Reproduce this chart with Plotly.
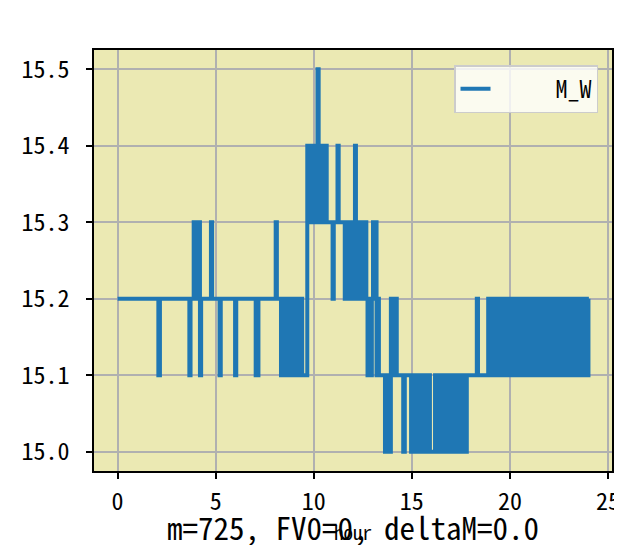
import plotly.graph_objects as go

# step data: time (hour) where the value changes, and the new M_W value
hours = [
    0.00, 2.08, 2.16, 3.66, 3.72, 3.88, 3.94, 4.14, 4.20, 4.26, 4.76, 4.82,
    5.20, 5.26, 5.99, 6.05, 7.04, 7.10, 7.14, 7.18, 8.06, 8.12,
    8.33, 8.39, 8.45, 8.51, 8.57, 8.63, 8.69, 8.75, 8.81, 8.87, 8.93, 8.99,
    9.05, 9.11, 9.17, 9.23, 9.29, 9.35, 9.41,
    9.67, 9.72, 9.78, 9.84, 9.90, 9.96, 10.02, 10.08, 10.14, 10.19, 10.25,
    10.30, 10.36, 10.42, 10.48, 10.54, 10.60, 10.66,
    10.96, 11.02, 11.21, 11.27, 11.58, 11.64, 11.70, 11.76, 11.82, 11.88,
    11.94, 12.00, 12.06, 12.10, 12.15, 12.20, 12.26, 12.32, 12.38, 12.44,
    12.50, 12.56, 12.62, 12.68,
    12.74, 12.80, 12.88, 12.96, 13.02, 13.08, 13.14, 13.20, 13.26, 13.32,
    13.63, 13.69, 13.75, 13.81, 13.87, 13.93, 13.99, 14.05, 14.11, 14.17, 14.23,
    14.56, 14.64, 14.96, 15.02, 15.08, 15.14, 15.20, 15.26, 15.32, 15.38,
    15.44, 15.50, 15.56, 15.62, 15.68, 15.74, 15.80, 15.86, 15.92,
    16.18, 16.24, 16.30, 16.41, 16.47, 16.53, 16.59, 16.65, 16.71, 16.77,
    16.83, 16.89, 16.95, 17.01, 17.07, 17.13, 17.19, 17.25, 17.31, 17.37,
    17.43, 17.49, 17.55, 17.74, 17.80,
    18.31, 18.37, 18.89, 18.95, 19.01, 19.07, 19.13, 19.19, 19.25, 19.31,
    19.37, 19.43, 19.49, 19.55, 19.61, 19.67,
    19.86, 19.92, 19.98, 20.04, 20.10, 20.16, 20.22, 20.28, 20.34, 20.40,
    20.46, 20.52, 20.58, 20.64, 20.70, 20.76, 20.82, 20.88, 20.94, 21.00,
    21.06, 21.12, 21.18, 21.22,
    21.28, 21.36, 21.44, 21.52, 21.60, 21.68, 21.76, 21.84, 21.92, 22.00,
    22.08, 22.16, 22.24, 22.32, 22.40, 22.48, 22.56, 22.64, 22.72, 22.80,
    22.88, 22.96, 23.04, 23.12, 23.20, 23.28, 23.36, 23.44, 23.52, 23.60,
    23.68, 23.76, 23.84, 23.92, 24.00,
]

m_w = [
    15.2, 15.1, 15.2, 15.1, 15.2, 15.3, 15.2, 15.3, 15.1, 15.2, 15.3, 15.2,
    15.1, 15.2, 15.1, 15.2, 15.1, 15.2, 15.1, 15.2, 15.3, 15.2,
    15.1, 15.2, 15.1, 15.2, 15.1, 15.2, 15.1, 15.2, 15.1, 15.2, 15.1, 15.2,
    15.1, 15.2, 15.1, 15.2, 15.1, 15.2, 15.1,
    15.4, 15.3, 15.4, 15.3, 15.4, 15.3, 15.4, 15.3, 15.4, 15.5, 15.4,
    15.3, 15.4, 15.3, 15.4, 15.3, 15.4, 15.3,
    15.2, 15.3, 15.4, 15.3, 15.2, 15.3, 15.2, 15.3, 15.2, 15.3,
    15.2, 15.3, 15.2, 15.4, 15.3, 15.2, 15.3, 15.2, 15.3, 15.2,
    15.3, 15.2, 15.3, 15.2,
    15.1, 15.2, 15.1, 15.2, 15.3, 15.2, 15.3, 15.1, 15.2, 15.1,
    15.0, 15.1, 15.0, 15.1, 15.0, 15.2, 15.1, 15.2, 15.1, 15.2, 15.1,
    15.0, 15.1, 15.0, 15.1, 15.0, 15.1, 15.0, 15.1, 15.0, 15.1,
    15.0, 15.1, 15.0, 15.1, 15.0, 15.1, 15.0, 15.1, 15.0,
    15.1, 15.0, 15.1, 15.0, 15.1, 15.0, 15.1, 15.0, 15.1, 15.0,
    15.1, 15.0, 15.1, 15.0, 15.1, 15.0, 15.1, 15.0, 15.1, 15.0,
    15.1, 15.0, 15.1, 15.0, 15.1,
    15.2, 15.1, 15.2, 15.1, 15.2, 15.1, 15.2, 15.1, 15.2, 15.1,
    15.2, 15.1, 15.2, 15.1, 15.2, 15.1,
    15.2, 15.1, 15.2, 15.1, 15.2, 15.1, 15.2, 15.1, 15.2, 15.1,
    15.2, 15.1, 15.2, 15.1, 15.2, 15.1, 15.2, 15.1, 15.2, 15.1,
    15.2, 15.1, 15.2, 15.1,
    15.2, 15.1, 15.2, 15.1, 15.2, 15.1, 15.2, 15.1, 15.2, 15.1,
    15.2, 15.1, 15.2, 15.1, 15.2, 15.1, 15.2, 15.1, 15.2, 15.1,
    15.2, 15.1, 15.2, 15.1, 15.2, 15.1, 15.2, 15.1, 15.2, 15.1,
    15.2, 15.1, 15.2, 15.1, 15.2,
]

y_ticks = [15.0, 15.1, 15.2, 15.3, 15.4, 15.5]
x_ticks = [0, 5, 10, 15, 20, 25]
note = "m=725, FV0=0, deltaM=0.0"

FONT = "Noto Sans Mono CJK SC, Noto Sans CJK SC, monospace"

# matplotlib-like 5% margins
x_pad = (max(hours) - min(hours)) * 0.05
y_pad = (max(m_w) - min(m_w)) * 0.05

fig = go.Figure()
fig.add_trace(go.Scatter(
    x=hours, y=m_w, mode="lines",
    name="\u00a0" * 5 + "M_W",  # padded so the label sits to the right like the original
    line=dict(color="#1f77b4", width=4, shape="hv"),
))

# page body has an 8px default margin, so the figure is a bit smaller than the window
fig.update_layout(
    width=614, height=537,
    margin=dict(l=86, r=10, t=42, b=74),
    paper_bgcolor="white",
    plot_bgcolor="#EBE9B3",
    font=dict(family=FONT, size=24, color="black"),
    showlegend=True,
    legend=dict(
        x=0.973, y=0.964, xanchor="right", yanchor="top",
        bgcolor="rgba(255,255,255,0.8)", bordercolor="#cccccc", borderwidth=1.5,
        font=dict(size=24),
    ),
    xaxis=dict(
        range=[min(hours) - x_pad, max(hours) + x_pad],
        tickvals=x_ticks, ticks="outside", ticklen=6, tickwidth=1.5, tickcolor="black",
        showline=True, linecolor="black", linewidth=1.5, mirror=True,
        showgrid=True, gridcolor="#b0b0b0", gridwidth=1.5, zeroline=False,
        ticklabelstandoff=2, automargin=False,
        title=dict(text="hour", font=dict(size=19), standoff=12),
    ),
    yaxis=dict(
        range=[min(m_w) - y_pad, max(m_w) + y_pad],
        tickvals=y_ticks, tickformat=".1f", ticks="outside", ticklen=6, tickwidth=1.5, tickcolor="black",
        showline=True, linecolor="black", linewidth=1.5, mirror=True,
        showgrid=True, gridcolor="#b0b0b0", gridwidth=1.5, zeroline=False,
        ticklabelstandoff=12, automargin=False,
    ),
)

fig.add_annotation(
    text=note, xref="paper", yref="paper", x=0.5, y=-0.133,
    xanchor="center", yanchor="middle", showarrow=False,
    font=dict(size=31, family=FONT, color="black"),
)

fig.write_html("out.html")
